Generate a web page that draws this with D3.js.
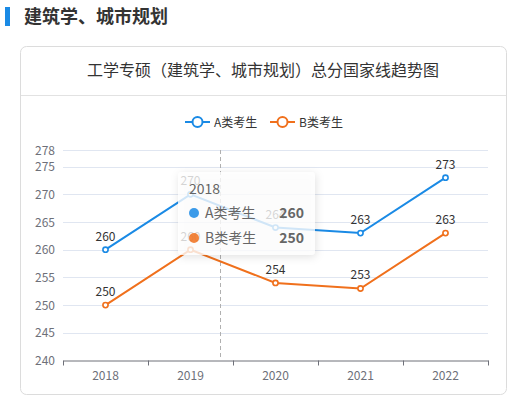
<!DOCTYPE html>
<html><head><meta charset="utf-8">
<script src="https://cdn.jsdelivr.net/npm/d3@7"></script>
<style>
html,body{margin:0;padding:0;background:#fff;}
body{width:518px;height:401px;overflow:hidden;font-family:"Noto Sans CJK SC","Microsoft YaHei",sans-serif;}
</style></head>
<body>
<svg id="c" width="518" height="401"></svg>
<script>
const pageTitle = "建筑学、城市规划";
const chartTitle = "工学专硕（建筑学、城市规划）总分国家线趋势图";
const years = ["2018","2019","2020","2021","2022"];
const seriesNames = ["A类考生","B类考生"];
const seriesA = [260,270,264,263,273];
const seriesB = [250,260,254,253,263];
const yTicks = [240,245,250,255,260,265,270,275,278];
const colors = ["#1a8ae5","#f0701c"];
const tooltipTitle = "2018";
const tooltipValues = [260,250];

const svg = d3.select("#c");
const font = '"Noto Sans CJK SC",sans-serif';

// page header
svg.append("rect").attr("x",5).attr("y",7).attr("width",5).attr("height",19).attr("fill","#1a8ae5");
svg.append("text").attr("x",24).attr("y",23).attr("font-size",18).attr("font-weight","bold")
  .attr("fill","#333").attr("font-family",font).text(pageTitle);

// card
svg.append("rect").attr("x",20.5).attr("y",46.5).attr("width",486).attr("height",348).attr("rx",6)
  .attr("fill","#fff").attr("stroke","#dcdcdc");
svg.append("line").attr("x1",21).attr("x2",506).attr("y1",95.5).attr("y2",95.5).attr("stroke","#e2e2e2");
svg.append("text").attr("x",263).attr("y",76).attr("text-anchor","middle").attr("font-size",16)
  .attr("fill","#333").attr("font-family",font).text(chartTitle);

const x = d3.scalePoint().domain(years).range([105.5,445.5]);
const xb = d3.scaleBand().domain(years).range([63,488]);
const y = d3.scaleLinear().domain([240,278]).range([360.5,150]);

// grid
const g = svg.append("g");
g.selectAll("line.grid").data(yTicks.slice(1)).join("line")
  .attr("x1",63).attr("x2",488).attr("y1",d=>Math.round(y(d))+0.5).attr("y2",d=>Math.round(y(d))+0.5)
  .attr("stroke","#e0e6f1");
g.selectAll("text.yl").data(yTicks).join("text")
  .attr("x",55).attr("y",d=>y(d)+4.5).attr("text-anchor","end").attr("font-size",12)
  .attr("fill","#6e7079").attr("font-family",font).text(d=>d);

// x axis
const xAxis = d3.axisBottom(xb).tickSizeOuter(0).tickSize(0);
const ax = svg.append("g").attr("transform","translate(0,360.5)").call(xAxis);
ax.select(".domain").attr("stroke","#6e7079");
ax.selectAll("text").attr("font-size",12).attr("fill","#6e7079").attr("font-family",font).attr("dy","1.35em");
const tickPos = years.map(d=>xb(d)).concat([xb.range()[1]]);
svg.selectAll("line.xt").data(tickPos).join("line")
  .attr("x1",d=>Math.round(d)+0.5).attr("x2",d=>Math.round(d)+0.5).attr("y1",360.5).attr("y2",365.5)
  .attr("stroke","#6e7079");

// axis pointer
svg.append("line").attr("x1",220.5).attr("x2",220.5).attr("y1",150).attr("y2",360)
  .attr("stroke","#b0b0b0").attr("stroke-dasharray","4,3");

// legend
const legend = svg.append("g");
const legX = [185,270];
seriesNames.forEach((n,i)=>{
  const lg = legend.append("g").attr("transform",`translate(${legX[i]},122)`);
  lg.append("line").attr("x1",0).attr("x2",25).attr("stroke",colors[i]).attr("stroke-width",2);
  lg.append("circle").attr("cx",12.5).attr("r",5).attr("fill","#fff").attr("stroke",colors[i]).attr("stroke-width",2);
  lg.append("text").attr("x",29).attr("y",4.5).attr("font-size",12).attr("fill","#333").attr("font-family",font).text(n);
});

// series
const line = d3.line().x((d,i)=>x(years[i])).y(d=>y(d));
[seriesA,seriesB].forEach((s,si)=>{
  svg.append("path").datum(s).attr("d",line).attr("fill","none").attr("stroke",colors[si]).attr("stroke-width",2);
  svg.selectAll(null).data(s).join("circle").attr("cx",(d,i)=>x(years[i])).attr("cy",d=>y(d)).attr("r",2.6)
    .attr("fill","#fff").attr("stroke",colors[si]).attr("stroke-width",1.6);
  svg.selectAll(null).data(s).join("text").attr("x",(d,i)=>x(years[i])).attr("y",d=>y(d)-9)
    .attr("text-anchor","middle").attr("font-size",12).attr("fill","#333").attr("font-family",font).text(d=>d);
});

// tooltip
const defs = svg.append("defs");
const f = defs.append("filter").attr("id","sh").attr("x","-20%").attr("y","-20%").attr("width","140%").attr("height","140%");
f.append("feDropShadow").attr("dx",1).attr("dy",2).attr("stdDeviation",4).attr("flood-color","#000").attr("flood-opacity",0.15);
const tt = svg.append("g").attr("transform","translate(178,172)");
tt.append("rect").attr("width",137).attr("height",83).attr("rx",4).attr("fill","rgba(255,255,255,0.78)")
  .attr("filter","url(#sh)");
tt.append("text").attr("x",11).attr("y",22).attr("font-size",14).attr("fill","#666").attr("font-family",font).text(tooltipTitle);
seriesNames.forEach((n,i)=>{
  const yy = 46 + i*25;
  tt.append("circle").attr("cx",16).attr("cy",yy-5).attr("r",5).attr("fill",colors[i]).attr("opacity",0.85);
  tt.append("text").attr("x",27).attr("y",yy).attr("font-size",14).attr("fill","#666").attr("font-family",font).text(n);
  tt.append("text").attr("x",126).attr("y",yy).attr("text-anchor","end").attr("font-size",14).attr("font-weight","bold")
    .attr("fill","#666").attr("font-family",font).text(tooltipValues[i]);
});
</script>
</body></html>
